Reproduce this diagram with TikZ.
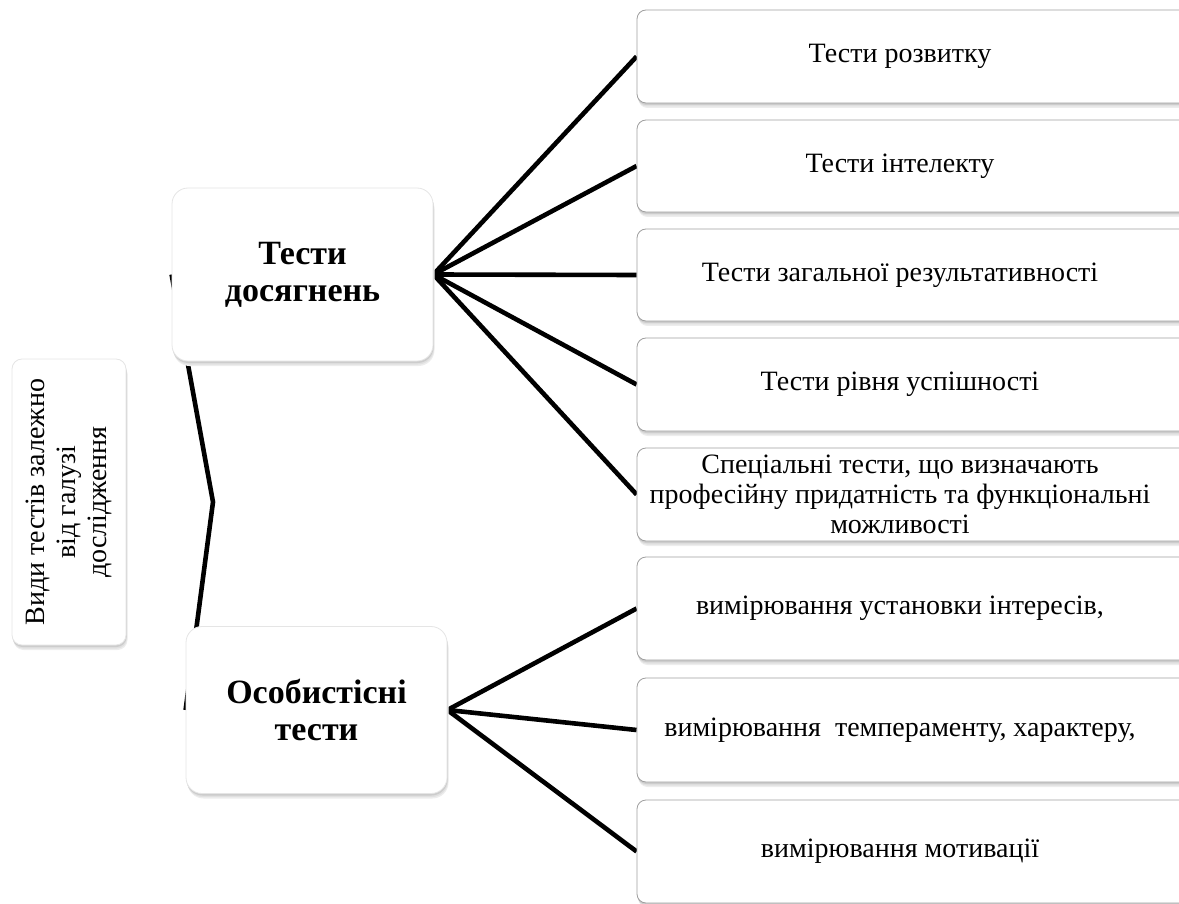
\documentclass[tikz,border=0pt]{standalone}
\usepackage{fontspec}
\usepackage{graphicx}
\setmainfont{Liberation Serif}
\pgfdeclarelayer{bg}
\pgfsetlayers{bg,main}
\tikzset{
 shad/.style={
   preaction={fill=black!7, transform canvas={xshift=1.5pt, yshift=-5pt}},
   preaction={fill=black!12, transform canvas={xshift=1pt, yshift=-3.5pt}},
   preaction={fill=black!20, transform canvas={xshift=0.5pt, yshift=-2pt}}},
 rootbox/.style={shad, fill=white, draw=black!10, line width=0.8pt, rounded corners=10pt, minimum width=114pt, minimum height=286pt, inner sep=0pt, font=\fontsize{28}{31}\selectfont},
 midbox/.style={shad, fill=white, draw=black!10, line width=0.8pt, rounded corners=16pt, inner sep=0pt, align=center, minimum width=261pt, font=\fontsize{34}{37}\selectfont\bfseries},
 rbox/.style={shad, fill=white, draw=gray!75, line width=0.8pt, rounded corners=9pt, minimum width=558pt, inner sep=0pt},
 rtext/.style={align=center, font=\fontsize{28}{30}\selectfont, xshift=-16pt, inner sep=0pt},
 conn/.style={draw=black, line width=4.6pt},
}
\begin{document}
\begin{tikzpicture}[x=1pt,y=-1pt]
\useasboundingbox (0,0) rectangle (1179,904);
% root
\node[rootbox] (root) at (69,502) {\rotatebox{90}{\begin{tabular}{@{}c@{}}Види тестів залежно\\від галузі\\дослідження\end{tabular}}};
\coordinate (J) at (213,502);
% mid
\node[midbox, minimum height=173pt] (m1) at (302.5,274.5) {Тести\\досягнень};
\node[midbox, minimum height=167pt] (m2) at (316.5,710) {Особистісні\\тести};
% right boxes
\node[rbox, minimum height=93pt, label={[rtext]center:Тести розвитку}] (r1) at (916,56.5) {};
\node[rbox, minimum height=92pt, label={[rtext]center:Тести інтелекту}] (r2) at (916,166) {};
\node[rbox, minimum height=92pt, label={[rtext]center:Тести загальної результативності}] (r3) at (916,275) {};
\node[rbox, minimum height=93pt, label={[rtext]center:Тести рівня успішності}] (r4) at (916,384.5) {};
\node[rbox, minimum height=93pt, label={[rtext]center:{Спеціальні тести, що визначають\\професійну придатність та функціональні\\можливості}}] (r5) at (916,494.5) {};
\node[rbox, minimum height=103pt, label={[rtext]center:{вимірювання установки інтересів,}}] (r6) at (916,608.5) {};
\node[rbox, minimum height=104pt, label={[rtext]center:{вимірювання\ \ темпераменту, характеру,}}] (r7) at (916,730) {};
\node[rbox, minimum height=103pt, label={[rtext]center:вимірювання мотивації}] (r8) at (916,851.5) {};
\begin{pgfonlayer}{bg}
\path[conn] (m1.west) -- (J) -- (m2.west);
\foreach \r in {r1,r2,r3,r4,r5} \path[conn] (m1.east) -- (\r.west);
\foreach \r in {r6,r7,r8} \path[conn] (m2.east) -- (\r.west);
\end{pgfonlayer}
\end{tikzpicture}
\end{document}
